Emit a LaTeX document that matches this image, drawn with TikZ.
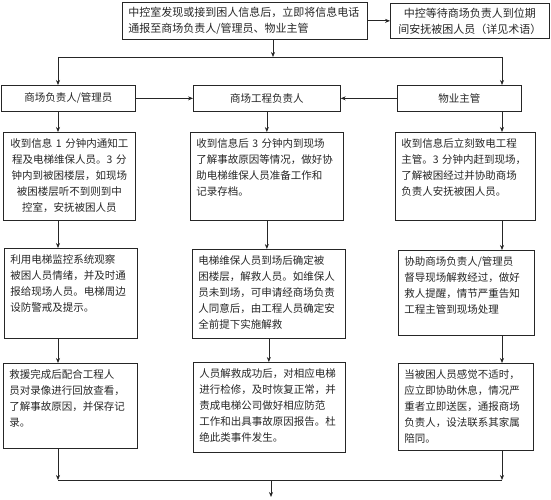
\documentclass[tikz,border=0pt]{standalone}
\usepackage{fontspec}
\setmainfont{Noto Sans CJK SC}
\usetikzlibrary{positioning, arrows.meta, calc}

\begin{document}
\begin{tikzpicture}[x=1pt, y=-1pt, >={Stealth[length=5pt, width=4pt]},
	font=\fontsize{10.5}{16}\selectfont, text=black!85, draw=black!85, line width=0.7pt,
	head/.style={draw, anchor=north west, inner xsep=6pt, inner ysep=4pt, text height=10pt, font=\fontsize{11}{16}\selectfont},
	role/.style={draw, anchor=north west, minimum height=26pt, inner sep=0pt},
	cell/.style={draw, anchor=north west, inner xsep=6pt, inner ysep=6pt, text height=9pt, align=left}]
	\useasboundingbox (0,0) rectangle (551,500);
	% ---- control room ----
	\node[head, text width=233pt, align=left, text depth=19pt] (top) at (122,2) {中控室发现或接到困人信息后，立即将信息电话\\通报至商场负责人/管理员、物业主管};
	\node[head, text width=147pt, align=center, text depth=17pt] (wait) at (390,3) {中控等待商场负责人到位期\\间安抚被困人员（详见术语）};
	\draw[->] (top) -- (wait);
	\coordinate (busT) at (273,57);
	\coordinate (busL) at (58,57);
	\coordinate (busR) at (502,57);
	\draw[->] (top.south -| busT) -- (busT);
	\draw (busL) -- (busR);
	% ---- roles ----
	\node[role, minimum width=134pt] (mgr) at (1,85) {商场负责人/管理员};
	\node[role, minimum width=147pt] (eng) at (193,85) {商场工程负责人};
	\node[role, minimum width=124pt] (prop) at (397,85) {物业主管};
	\draw[->] (busL) -- (busL |- mgr.north);
	\draw[->] (busR) -- (busR |- prop.north);
	\draw[->] (mgr) -- (eng);
	\draw[->] (prop) -- (eng);
	% ---- steps ----
	\node[cell, text width=120pt, align=center, text depth=67pt] (mgr1) at (3,132) {收到信息 1 分钟内通知工\\程及电梯维保人员。3 分\\钟内到被困楼层，如现场\\被困楼层听不到则到中\\控室，安抚被困人员};
	\node[cell, text width=141pt, text depth=67pt] (eng1) at (190,132) {收到信息后 3 分钟内到现场\\了解事故原因等情况，做好协\\助电梯维保人员准备工作和\\记录存档。};
	\node[cell, text width=128pt, text depth=67pt] (prop1) at (395,132) {收到信息后立刻致电工程\\主管。3 分钟内赶到现场，\\了解被困经过并协助商场\\负责人安抚被困人员。};
	\node[cell, text width=121pt, text depth=69pt] (mgr2) at (4,248) {利用电梯监控系统观察\\被困人员情绪，并及时通\\报给现场人员。电梯周边\\设防警戒及提示。};
	\node[cell, text width=141pt, text depth=68pt] (eng2) at (192,249) {电梯维保人员到场后确定被\\困楼层，解救人员。如维保人\\员未到场，可申请经商场负责\\人同意后，由工程人员确定安\\全前提下实施解救};
	\node[cell, text width=124pt, text depth=64pt] (prop2) at (398,250) {协助商场负责人/管理员\\督导现场解救经过，做好\\救人提醒，情节严重告知\\工程主管到现场处理};
	\node[cell, text width=122pt, text depth=64pt] (mgr3) at (3,363) {救援完成后配合工程人\\员对录像进行回放查看，\\了解事故原因，并保存记\\录。};
	\node[cell, text width=140pt, text depth=69pt] (eng3) at (193,362) {人员解救成功后，对相应电梯\\进行检修，及时恢复正常，并\\责成电梯公司做好相应防范\\工作和出具事故原因报告。杜\\绝此类事件发生。};
	\node[cell, text width=123pt, text depth=66pt] (prop3) at (398,363) {当被困人员感觉不适时，\\应立即协助休息，情况严\\重者立即送医，通报商场\\负责人，设法联系其家属\\陪同。};
	\draw[->] (mgr.south -| busL) -- (mgr1.north -| busL);
	\draw[->] (prop.south -| busR) -- (prop1.north -| busR);
	\draw[->] (eng.south) -- (eng.south |- eng1.north);
	\foreach \a/\b in {mgr1/mgr2, mgr2/mgr3}{
		\draw[->] (\a.south -| busL) -- (\b.north -| busL);
	}
	\foreach \a/\b in {prop1/prop2, prop2/prop3}{
		\draw[->] (\a.south -| busR) -- (\b.north -| busR);
	}
	\foreach \a/\b in {eng1/eng2, eng2/eng3}{
		\draw[->] (\a.south) -- (\a.south |- \b.north);
	}
	% ---- closing ----
	\coordinate (busB) at (271,480);
	\coordinate (exit) at (271,497);
	\draw (busL |- busB) -- (busR |- busB);
	\draw[->] (mgr3.south -| busL) -- (busL |- busB);
	\draw[->] (prop3.south -| busR) -- (busR |- busB);
	\draw[->] (busB) -- (exit);
\end{tikzpicture}
\end{document}
